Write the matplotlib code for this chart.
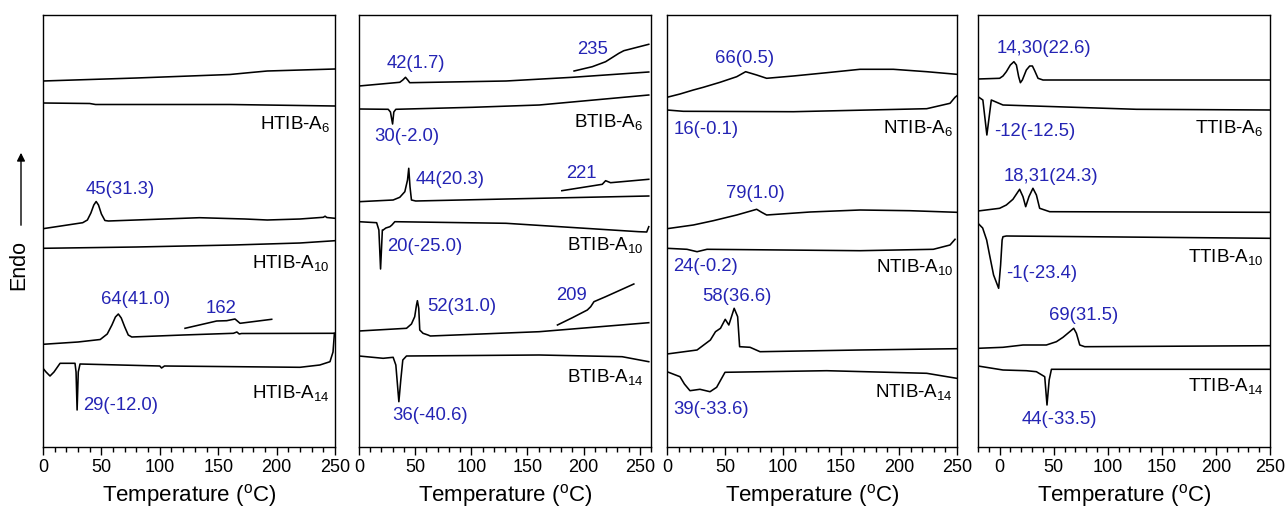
import matplotlib
matplotlib.use("Agg")
import matplotlib.pyplot as plt
from matplotlib.patches import FancyArrowPatch
from matplotlib.ticker import MultipleLocator

plt.rcParams['font.family'] = ['Liberation Sans', 'DejaVu Sans']
plt.rcParams['mathtext.fontset'] = 'custom'
plt.rcParams['mathtext.rm'] = 'Liberation Sans'
plt.rcParams['mathtext.it'] = 'Liberation Sans:italic'
plt.rcParams['mathtext.bf'] = 'Liberation Sans:bold'

BLUE = '#2424B4'

# ---------------- HTIB ----------------
htib_a6_heat_T = [0, 80, 160, 178, 192, 250]
htib_a6_heat_s = [366, 369, 372.5, 374.5, 376, 378]
htib_a6_cool_T = [0, 40, 45, 160, 250]
htib_a6_cool_s = [344, 343.5, 342.5, 342.5, 341]
htib_a10_heat_T = [0, 34, 38, 41, 43.5, 45.5, 47.5, 50, 53, 56, 134, 173, 192, 220, 240, 241.5, 243, 250]
htib_a10_heat_s = [218.3, 224.3, 227, 234, 242, 245.5, 242, 233, 226.5, 226, 229.3, 228, 227, 228, 229.7, 230.8, 229.5, 228.7]
htib_a10_cool_T = [0, 80, 163, 220, 250]
htib_a10_cool_s = [198.7, 200, 202, 204, 206.3]
htib_a14_heat_T = [0, 30, 49, 55, 59, 62, 64.5, 67, 70, 73, 76, 120, 163, 166, 168, 170, 250]
htib_a14_heat_s = [102.7, 105, 107.5, 113, 122, 130, 133, 129, 120, 112, 110, 112, 113.7, 115, 113, 113.5, 113.7]
htib_a14_zoom_T = [121.6, 148.7, 157.3, 164.4, 168.7, 195.8]
htib_a14_zoom_s = [118.7, 126, 126.3, 128, 123.7, 127.7]
htib_a14_cool_T = [0, 2.6, 6, 9.4, 14.6, 27.4, 28.3, 29.2, 30.2, 31.7, 100, 101.5, 104, 220, 237, 245.7, 248.3, 249.5]
htib_a14_cool_s = [78.7, 75, 71, 75, 83.7, 83.7, 75, 37, 75, 83, 81, 79, 81, 79.7, 82, 85.3, 95, 113.7]

# ---------------- BTIB ----------------
btib_a6_heat_T = [0, 36.3, 39, 41.4, 43.4, 45.2, 130.9, 190, 258]
btib_a6_heat_s = [361, 364.7, 367, 369.7, 367, 364.3, 366, 369.7, 375]
btib_a6_zoom_T = [191.5, 207.7, 219.6, 231.4, 235.8, 258]
btib_a6_zoom_s = [376, 380.3, 385.3, 393.7, 396.3, 402.7]
btib_a6_cool_T = [0, 26, 28, 29.9, 31, 32.8, 101.3, 160.5, 258]
btib_a6_cool_s = [338, 337.7, 335, 323, 335, 337.7, 339.7, 342, 352]
btib_a10_heat_T = [0, 30.4, 36.3, 40.8, 43.2, 44.3, 45.4, 46.7, 50.5, 130.9, 258]
btib_a10_heat_s = [245.3, 247, 249.7, 255.3, 267, 278.7, 260.3, 247, 246, 248, 251]
btib_a10_zoom_T = [180.6, 216.6, 219.6, 224, 258]
btib_a10_zoom_s = [256.3, 262.7, 266.3, 264.3, 267.7]
btib_a10_cool_T = [0, 15.7, 17.7, 19.2, 20.8, 21.5, 23.9, 27.5, 29.3, 31.9, 130.9, 249.1, 256.2, 258]
btib_a10_cool_s = [225.3, 224.3, 217, 178, 217, 217, 219, 220.3, 222, 225.3, 223.7, 215.3, 215, 220.3]
btib_a14_heat_T = [0, 42.3, 46.7, 49.6, 51.2, 52, 53.2, 54.1, 57, 61.4, 63.5, 160.5, 258]
btib_a14_heat_s = [116, 118.7, 123, 130.3, 142, 146.3, 138.7, 117, 113.7, 112, 111, 115.3, 124.3]
btib_a14_zoom_T = [176.7, 190, 203.3, 206.3, 209.2, 219.6, 244.7]
btib_a14_zoom_s = [122, 129.3, 137, 140.3, 145.3, 150.3, 163]
btib_a14_cool_T = [0, 21.5, 30.4, 32.8, 35.5, 37.2, 39, 42.3, 160.5, 234.3, 258]
btib_a14_cool_s = [91, 88.7, 89.7, 82, 45.3, 67, 87, 91, 92, 90.3, 85.3]

# ---------------- NTIB ----------------
ntib_a6_heat_T = [0, 11.2, 22.7, 31.3, 45.7, 60.1, 67.8, 77.3, 85.9, 108.9, 137.7, 166.4, 195.1, 223.9, 249.7]
ntib_a6_heat_s = [349.7, 353, 357, 359.7, 364.7, 370.3, 375.3, 372, 368.7, 371, 374.3, 377.7, 377.7, 375.3, 372.7]
ntib_a6_cool_T = [0, 14, 108.9, 223.9, 244, 248.3, 249.7]
ntib_a6_cool_s = [337, 335.7, 335.3, 338.3, 343.7, 349.7, 351]
ntib_a10_heat_T = [0, 22.7, 39.9, 60.1, 70.1, 77.3, 81.6, 85.9, 123.3, 166.4, 209.5, 249.7]
ntib_a10_heat_s = [218.3, 222, 226.3, 232, 235.3, 237.7, 234.7, 232, 235, 237, 236.3, 234.7]
ntib_a10_cool_T = [0, 17.2, 25.9, 34.5, 166.4, 229.6, 244, 248.3]
ntib_a10_cool_s = [198.7, 197.7, 195.3, 197.7, 196.3, 197.7, 202, 207.7]
ntib_a14_heat_T = [0, 25.9, 37.4, 41.8, 46.1, 50.2, 53.3, 57.9, 60.9, 62.6, 71.6, 80.2, 166.4, 249.7]
ntib_a14_heat_s = [93, 97, 107, 115.3, 118.7, 127.7, 122, 138.7, 130.3, 100.3, 99.7, 95.3, 97, 98.3]
ntib_a14_cool_T = [0, 11.2, 15, 19.8, 28.4, 37.1, 42.8, 50, 137.7, 223.9, 249.7]
ntib_a14_cool_s = [75.3, 70.3, 63, 56.3, 57.7, 55.3, 59.7, 74.7, 76.3, 73.7, 68.7]

# ---------------- TTIB ----------------
ttib_a6_heat_T = [-20, 0, 3.1, 6.2, 9.9, 13.2, 15.5, 17.6, 19.2, 21, 24.7, 27.8, 30.3, 32.4, 35.5, 40.1, 250]
ttib_a6_heat_s = [368, 368.7, 371, 375.3, 382, 385.3, 382, 370.3, 364.3, 367, 377, 381, 381, 376.3, 368.7, 367, 367]
ttib_a6_cool_T = [-20, -15.5, -11.8, -7.7, 3.1, 126.6, 250]
ttib_a6_cool_s = [350.3, 347, 312, 347, 342, 337.7, 337]
ttib_a10_heat_T = [-20, 0, 6.2, 12.3, 18.5, 21.6, 24.1, 27.1, 30.8, 34, 37, 46.3, 250]
ttib_a10_heat_s = [236, 238.7, 242, 247.7, 257.7, 250.3, 240.3, 250.3, 258.7, 252, 238.7, 235.3, 234.7]
ttib_a10_cool_T = [-20, -15.7, -12, -9.3, -5.6, -0.9, 0.9, 2.3, 3.1, 6.2, 250]
ttib_a10_cool_s = [223.7, 219, 207, 192, 172, 158.7, 182, 207, 210.3, 211, 208.7]
ttib_a14_heat_T = [-20, 3.1, 21.6, 43.2, 52.5, 58.6, 64.8, 68.5, 71, 74.1, 78.7, 250]
ttib_a14_heat_s = [98.7, 99.7, 102, 102, 105.3, 109.7, 115.3, 118.7, 113.7, 102, 100.3, 101.3]
ttib_a14_cool_T = [-20, 3.1, 24.7, 34, 41.7, 43.8, 45.8, 47.9, 250]
ttib_a14_cool_s = [81, 77, 76.3, 75.3, 70.3, 42, 67, 77.7, 77.7]

# sample-name labels and peak annotations: (text, T, signal)
htib_names = [("HTIB-A$_6$", 245.7, 323), ("HTIB-A$_{10}$", 245.7, 184), ("HTIB-A$_{14}$", 245.7, 54)]
htib_notes = [("45(31.3)", 65.9, 258), ("64(41.0)", 79.6, 147.7), ("162", 152.1, 138.7), ("29(-12.0)", 66.5, 42)]
btib_names = [("BTIB-A$_6$", 253.5, 325.3), ("BTIB-A$_{10}$", 253.5, 202), ("BTIB-A$_{14}$", 253.5, 70.3)]
btib_notes = [("42(1.7)", 50.5, 383), ("235", 207.7, 397), ("30(-2.0)", 42.3, 310.3), ("44(20.3)", 80.7, 267),
              ("221", 198.3, 273.7), ("20(-25.0)", 58.5, 200.3), ("52(31.0)", 91.9, 140.3), ("209", 189.4, 152),
              ("36(-40.6)", 62.9, 32)]
ntib_names = [("NTIB-A$_6$", 246.8, 319.3), ("NTIB-A$_{10}$", 246.8, 180.3), ("NTIB-A$_{14}$", 246.8, 55.3)]
ntib_notes = [("66(0.5)", 66.6, 388.7), ("16(-0.1)", 33.4, 317), ("79(1.0)", 76.5, 253), ("24(-0.2)", 33.4, 180.3),
              ("58(36.6)", 60.6, 150.3), ("39(-33.6)", 37.7, 37.7)]
ttib_names = [("TTIB-A$_6$", 243.8, 319.3), ("TTIB-A$_{10}$", 243.8, 190.3), ("TTIB-A$_{14}$", 243.8, 61)]
ttib_notes = [("14,30(22.6)", 40.7, 398.7), ("-12(-12.5)", 32.4, 316), ("18,31(24.3)", 47.9, 270.3),
              ("-1(-23.4)", 38.6, 173), ("69(31.5)", 77.8, 132), ("44(-33.5)", 55.6, 27.7)]

panels = [
    dict(rect=(43, 335), xlim=(0, 250),
         curves=[(htib_a6_heat_T, htib_a6_heat_s), (htib_a6_cool_T, htib_a6_cool_s),
                 (htib_a10_heat_T, htib_a10_heat_s), (htib_a10_cool_T, htib_a10_cool_s),
                 (htib_a14_heat_T, htib_a14_heat_s), (htib_a14_zoom_T, htib_a14_zoom_s),
                 (htib_a14_cool_T, htib_a14_cool_s)],
         names=htib_names, notes=htib_notes),
    dict(rect=(359, 651), xlim=(0, 260),
         curves=[(btib_a6_heat_T, btib_a6_heat_s), (btib_a6_zoom_T, btib_a6_zoom_s),
                 (btib_a6_cool_T, btib_a6_cool_s), (btib_a10_heat_T, btib_a10_heat_s),
                 (btib_a10_zoom_T, btib_a10_zoom_s), (btib_a10_cool_T, btib_a10_cool_s),
                 (btib_a14_heat_T, btib_a14_heat_s), (btib_a14_zoom_T, btib_a14_zoom_s),
                 (btib_a14_cool_T, btib_a14_cool_s)],
         names=btib_names, notes=btib_notes),
    dict(rect=(667, 957), xlim=(0, 250),
         curves=[(ntib_a6_heat_T, ntib_a6_heat_s), (ntib_a6_cool_T, ntib_a6_cool_s),
                 (ntib_a10_heat_T, ntib_a10_heat_s), (ntib_a10_cool_T, ntib_a10_cool_s),
                 (ntib_a14_heat_T, ntib_a14_heat_s), (ntib_a14_cool_T, ntib_a14_cool_s)],
         names=ntib_names, notes=ntib_notes),
    dict(rect=(978, 1270), xlim=(-20, 250),
         curves=[(ttib_a6_heat_T, ttib_a6_heat_s), (ttib_a6_cool_T, ttib_a6_cool_s),
                 (ttib_a10_heat_T, ttib_a10_heat_s), (ttib_a10_cool_T, ttib_a10_cool_s),
                 (ttib_a14_heat_T, ttib_a14_heat_s), (ttib_a14_cool_T, ttib_a14_cool_s)],
         names=ttib_names, notes=ttib_notes),
]

W, H = 1287, 508
fig = plt.figure(figsize=(W / 100, H / 100), dpi=100)
top_px, bot_px = 15, 447

for p in panels:
    l, r = p['rect']
    ax = fig.add_axes([l / W, (H - bot_px) / H, (r - l) / W, (bot_px - top_px) / H])
    for T, s in p['curves']:
        ax.plot(T, s, color='black', lw=1.15, solid_joinstyle='round')
    ax.set_xlim(*p['xlim'])
    ax.set_ylim(0, 432)
    ax.set_xticks([0, 50, 100, 150, 200, 250])
    ax.xaxis.set_minor_locator(MultipleLocator(10))
    ax.tick_params(axis='x', which='major', direction='out', length=6, width=1.0, labelsize=13, pad=3)
    ax.tick_params(axis='x', which='minor', direction='out', length=3.5, width=1.0)
    ax.set_yticks([])
    for sp in ax.spines.values():
        sp.set_linewidth(1.0)
    ax.set_xlabel('Temperature ($^{\\rm o}$C)', fontsize=16, labelpad=4)
    for txt, x, y in p['names']:
        ax.text(x, y, txt, ha='right', va='center', fontsize=13.5, color='black')
    for txt, x, y in p['notes']:
        ax.text(x, y, txt, ha='center', va='center', fontsize=13.3, color=BLUE)

fig.text(19 / W, (H - 265) / H, 'Endo', rotation=90, ha='center', va='center', fontsize=15.5)
fig.add_artist(FancyArrowPatch((21 / W, (H - 228) / H), (21 / W, (H - 150) / H),
                               transform=fig.transFigure, arrowstyle='-|>', mutation_scale=12,
                               lw=1.0, color='black'))

fig.savefig('out.png', dpi=100)
